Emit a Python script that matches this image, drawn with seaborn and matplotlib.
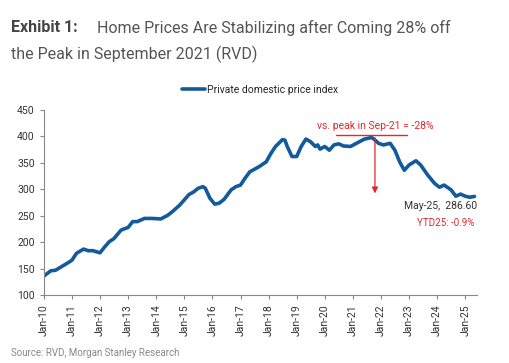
import pandas as pd
import matplotlib
matplotlib.use("Agg")
import matplotlib.pyplot as plt
import matplotlib.dates as mdates
import seaborn as sns

dates = ["2010-01", "2010-04", "2010-06", "2010-09", "2010-12", "2011-01", "2011-03", "2011-06",
         "2011-08", "2011-10", "2012-01", "2012-03", "2012-05", "2012-07", "2012-10", "2013-01",
         "2013-03", "2013-05", "2013-08", "2013-11", "2014-03", "2014-06", "2014-08", "2014-11",
         "2015-01", "2015-03", "2015-05", "2015-07", "2015-09", "2015-10", "2015-12", "2016-02",
         "2016-04", "2016-06", "2016-09", "2016-11", "2017-01", "2017-03", "2017-05", "2017-09",
         "2017-12", "2018-02", "2018-04", "2018-07", "2018-08", "2018-09", "2018-11", "2019-01",
         "2019-03", "2019-05", "2019-07", "2019-09", "2019-10", "2019-11", "2020-01", "2020-03",
         "2020-05", "2020-07", "2020-09", "2020-12", "2021-03", "2021-06", "2021-09", "2021-10",
         "2021-12", "2022-02", "2022-05", "2022-07", "2022-09", "2022-11", "2023-01", "2023-04",
         "2023-06", "2023-09", "2023-12", "2024-02", "2024-04", "2024-07", "2024-09", "2024-11",
         "2025-01", "2025-03", "2025-05"]
index_values = [136, 146, 147, 155, 163, 166, 179, 187,
                184, 184, 180, 191, 201, 207, 223, 228,
                239, 239, 245, 245, 244, 251, 258, 270,
                280, 290, 295, 302, 305, 302, 283, 272,
                274, 281, 299, 305, 308, 321, 333, 343,
                352, 368, 381, 394, 393, 381, 362, 362,
                381, 395, 390, 381, 384, 376, 381, 374,
                384, 386, 382, 381, 388, 395, 398, 395,
                387, 384, 387, 374, 352, 336, 346, 354,
                346, 327, 311, 304, 308, 299, 287, 291,
                287, 285, 286.6]
tick_years = list(range(2010, 2026))

df = pd.DataFrame({"Date": pd.to_datetime(dates), "Index": index_values})

sns.set_style("ticks")
plt.rcParams["font.family"] = ["Roboto", "DejaVu Sans"]

fig = plt.figure(figsize=(5.1, 3.63), dpi=100)
ax = fig.add_axes([0.086, 0.187, 0.849, 0.51])

blue = "#135a9c"
red = "#e0282e"
sns.lineplot(data=df, x="Date", y="Index", ax=ax, color=blue, linewidth=2.6,
             label="Private domestic price index")

ax.set_ylim(100, 450)
ax.set_yticks(range(100, 451, 50))
ax.set_xlim(pd.Timestamp("2010-01-01"), pd.Timestamp("2025-06-01"))
ax.set_xticks([pd.Timestamp(f"{y}-01-01") for y in tick_years])
ax.xaxis.set_major_formatter(mdates.DateFormatter("Jan-%y"))
ax.tick_params(axis="x", rotation=90, labelsize=7.5, length=3, color="#888888", labelcolor="#333333")
ax.tick_params(axis="y", labelsize=7.5, length=3, color="#888888", labelcolor="#333333")
ax.set_xlabel("")
ax.set_ylabel("")
for s in ["left", "bottom"]:
    ax.spines[s].set_color("#888888")
    ax.spines[s].set_linewidth(0.8)
sns.despine(ax=ax)

leg = ax.legend(loc="lower center", bbox_to_anchor=(0.5, 1.03), frameon=False,
                fontsize=7.5, handlelength=2.2, handletextpad=0.2)

# annotation: peak drawdown
peak = pd.Timestamp("2021-10-15")
ax.plot([pd.Timestamp("2020-06-01"), pd.Timestamp("2022-12-01")], [402.5, 402.5],
        color=red, linewidth=1)
ax.annotate("", xy=(peak, 287), xytext=(peak, 402.5),
            arrowprops=dict(arrowstyle="-|>", color=red, lw=0.9, mutation_scale=9))
ax.text(pd.Timestamp("2021-10-15"), 410, "vs. peak in Sep-21 = -28%", color=red,
        fontsize=7.5, ha="center", va="bottom")
ax.text(pd.Timestamp("2025-06-01"), 268, "May-25,  286.60", color="#333333",
        fontsize=7.5, ha="right", va="center")
ax.text(pd.Timestamp("2025-05-01"), 236, "YTD25: -0.9%", color=red,
        fontsize=7, ha="right", va="center")

fig.text(0.022, 0.923, "Exhibit 1:", fontsize=11.5, fontweight="bold", color="#444444", va="center")
fig.text(0.19, 0.923, "Home Prices Are Stabilizing after Coming 28% off", fontsize=11.5,
         color="#555555", va="center")
fig.text(0.022, 0.85, "the Peak in September 2021 (RVD)", fontsize=11.5, color="#555555", va="center")
fig.text(0.022, 0.027, "Source: RVD, Morgan Stanley Research", fontsize=7, color="#888888", va="center")

fig.savefig("out.png", dpi=100)
